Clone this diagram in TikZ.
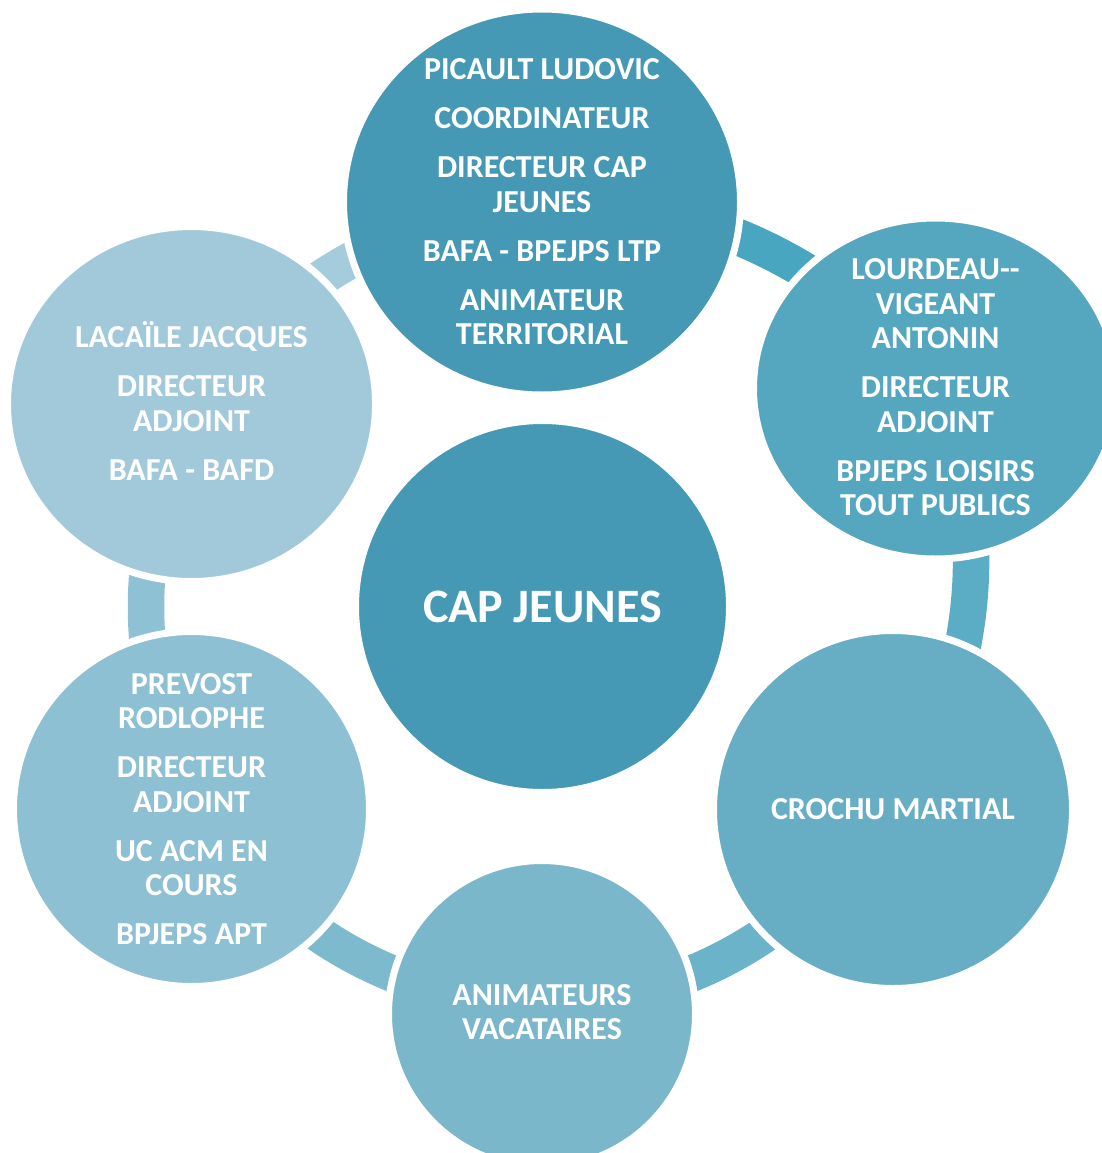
\documentclass[tikz,border=0pt]{standalone}
\usepackage{fontspec}
\setmainfont{Carlito}
\usetikzlibrary{shapes.geometric}
\definecolor{cTop}{HTML}{4599B4}
\definecolor{cHub}{HTML}{4599B4}
\definecolor{cTR}{HTML}{55A6BF}
\definecolor{cCro}{HTML}{67AEC5}
\definecolor{cBot}{HTML}{7BB7CB}
\definecolor{cPre}{HTML}{8EC0D3}
\definecolor{cLac}{HTML}{A2C9DA}
\definecolor{aOne}{HTML}{48A6C0}
\definecolor{aTwo}{HTML}{5AADC4}
\definecolor{aThree}{HTML}{6AB3C9}
\definecolor{aFour}{HTML}{7DBACD}
\definecolor{aFive}{HTML}{8FC1D4}
\definecolor{aSix}{HTML}{A4CCDC}
\begin{document}
\begin{tikzpicture}[x=1pt,y=1pt,yscale=-1,
  bubble/.style={ellipse, draw=white, line width=7pt, inner sep=0pt},
  label/.style={text=white, align=center, inner sep=0pt,
    font=\fontsize{32}{34.5}\selectfont\bfseries},
  biglabel/.style={text=white, align=center, inner sep=0pt,
    font=\fontsize{48}{56}\selectfont\bfseries},
  ring/.style={line width=36.5pt}]
\useasboundingbox (0,0) rectangle (1102,1153);
\clip (0,0) rectangle (1102,1153);
% hub reference point
\coordinate (hubc) at (542,607);
\coordinate (cA) at (555.2,682.4);
\coordinate (cB) at (534.6,561);
% connectors (arcs)
\draw[ring, aOne]   ([shift={(-91.6:481.5)}]cA) arc[start angle=-91.6, end angle=-37.8, radius=481.5];
\draw[ring, aTwo]   ([shift={(-23.4:436.5)}]cB) arc[start angle=-23.4, end angle=34.7, radius=436.5];
\draw[ring, aThree] ([shift={(30:396)}]hubc) arc[start angle=30, end angle=90, radius=396];
\draw[ring, aFour]  ([shift={(90:396)}]hubc) arc[start angle=90, end angle=150, radius=396];
\draw[ring, aFive]  ([shift={(150:396)}]hubc) arc[start angle=150, end angle=210, radius=396];
\draw[ring, aSix]   ([shift={(210:396)}]hubc) arc[start angle=210, end angle=270, radius=396];
% circles
\node[bubble, fill=cTop, minimum width=397pt, minimum height=386pt] (top) at (542,202) {};
\node[bubble, fill=cTR, minimum width=364pt, minimum height=341pt] (tr) at (935.5,388.5) {};
\node[bubble, fill=cCro, minimum width=359pt, minimum height=358pt] (cro) at (893,809.5) {};
\node[bubble, fill=cBot, minimum width=307pt, minimum height=307pt] (bot) at (542,1014) {};
\node[bubble, fill=cPre, minimum width=356pt, minimum height=355pt] (pre) at (191.5,809) {};
\node[bubble, fill=cLac, minimum width=368pt, minimum height=355pt] (lac) at (191.5,404) {};
\node[bubble, fill=cHub, minimum width=374pt, minimum height=372pt] (hub) at (542.5,606.5) {};
% texts
\node[label] (topt) at (top) {PICAULT LUDOVIC\\[14.5pt]COORDINATEUR\\[14.5pt]DIRECTEUR CAP\\JEUNES\\[14.5pt]BAFA - BPEJPS LTP\\[14.5pt]ANIMATEUR\\TERRITORIAL};
\node[label] (trt) at (935.5,387.5) {LOURDEAU-{}-\\VIGEANT\\ANTONIN\\[14.5pt]DIRECTEUR\\ADJOINT\\[14.5pt]BPJEPS LOISIRS\\TOUT PUBLICS};
\node[label] (crot) at (cro) {CROCHU MARTIAL};
\node[label] (bott) at (542,1012) {ANIMATEURS\\VACATAIRES};
\node[label] (pret) at (pre) {PREVOST\\RODLOPHE\\[14.5pt]DIRECTEUR\\ADJOINT\\[14.5pt]UC ACM EN\\COURS\\[14.5pt]BPJEPS APT};
\node[label] (lact) at (191.5,401) {LACAÏLE JACQUES\\[14.5pt]DIRECTEUR\\ADJOINT\\[14.5pt]BAFA - BAFD};
\node[biglabel] (hubt) at (hub) {CAP JEUNES};
\end{tikzpicture}
\end{document}
